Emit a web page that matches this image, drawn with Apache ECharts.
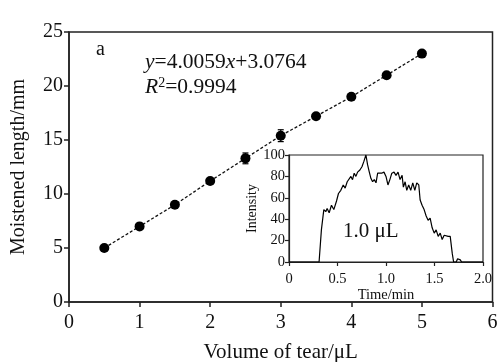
<!DOCTYPE html>
<html>
<head>
<meta charset="utf-8">
<script src="https://cdn.jsdelivr.net/npm/echarts@6/dist/echarts.min.js"></script>
<style>
html,body{margin:0;padding:0;background:#fff;}
#chart{width:498px;height:362px;}
</style>
</head>
<body>
<div id="chart"></div>
<script>
// Main plot data
const volume = [0.5, 1, 1.5, 2, 2.5, 3, 3.5, 4, 4.5, 5];
const moistLength = [5.0, 7.0, 9.0, 11.2, 13.3, 15.4, 17.2, 19.0, 21.0, 23.0];
const errVolume = [2.5, 3];
const errLow = [12.8, 14.85];
const errHigh = [13.8, 15.95];
const mainXTicks = [0, 1, 2, 3, 4, 5, 6];
const mainYTicks = [0, 5, 10, 15, 20, 25];

// Inset data
const insetTime = [0, 0.31, 0.334, 0.359, 0.379, 0.393, 0.414, 0.438, 0.462, 0.49, 0.51, 0.534, 0.559, 0.579, 0.6, 0.62, 0.638, 0.655, 0.672, 0.69, 0.707, 0.731, 0.752, 0.772, 0.793, 0.81, 0.828, 0.845, 0.862, 0.879, 0.897, 0.914, 0.931, 0.955, 0.979, 1.0, 1.02, 1.04, 1.06, 1.083, 1.103, 1.124, 1.145, 1.166, 1.179, 1.197, 1.214, 1.234, 1.255, 1.276, 1.297, 1.317, 1.338, 1.352, 1.372, 1.393, 1.414, 1.434, 1.455, 1.476, 1.497, 1.517, 1.538, 1.559, 1.579, 1.6, 1.62, 1.641, 1.662, 1.683, 1.697, 1.724, 1.738, 1.752, 1.766, 1.779, 2.0];
const insetIntensity = [0, 0, 30, 49, 47, 50, 46, 53, 49, 57, 64, 67, 72, 69, 75, 74, 80, 77, 83, 80, 84, 86, 89, 94, 100, 91, 84, 78, 75, 77, 74, 83, 84, 83, 84, 80, 72, 77, 83, 84, 81, 84, 77, 81, 70, 75, 67, 72, 67, 74, 67, 74, 72, 58, 53, 49, 43, 39, 41, 32, 27, 30, 24, 27, 21, 25, 26, 24, 24, 8, 0, 0, 3, 4, 2, 0, 0];
const insetXTicks = ['0', '0.5', '1.0', '1.5', '2.0'];
const insetYTicks = [0, 20, 40, 60, 80, 100];

const FONT = '"Liberation Serif", "Times New Roman", serif';
const AX = '#222';

const chart = echarts.init(document.getElementById('chart'), null, {renderer: 'canvas'});

const mainPts = volume.map((v, i) => [v, moistLength[i]]);
const errData = errVolume.map((v, i) => [v, errLow[i], errHigh[i]]);
const insetPts = insetTime.map((t, i) => [t, insetIntensity[i]]);

function axisCommon(fs) {
  return {
    axisLine: {show: true, lineStyle: {color: AX, width: 1.5}},
    axisTick: {show: true, inside: false, length: 5, lineStyle: {color: AX, width: 1.5}},
    splitLine: {show: false},
    axisLabel: {color: '#111', fontFamily: FONT, fontSize: fs},
    nameTextStyle: {color: '#111', fontFamily: FONT, fontSize: fs}
  };
}

const option = {
  backgroundColor: '#fff',
  animation: false,
  grid: [
    {left: 69, top: 32, right: 5.5, bottom: 60, show: true, borderColor: AX, borderWidth: 1.5,
      backgroundColor: 'transparent', containLabel: false, outerBoundsMode: 'none'},
    {left: 289, top: 155, right: 15, bottom: 100, show: true, borderColor: AX, borderWidth: 1.2,
      backgroundColor: '#fff', z: 5, containLabel: false, outerBoundsMode: 'none'}
  ],
  xAxis: [
    Object.assign(axisCommon(20), {
      gridIndex: 0, type: 'value', min: mainXTicks[0], max: mainXTicks[mainXTicks.length - 1], interval: 1,
      name: 'Volume of tear/\u03bcL', nameLocation: 'middle', nameGap: 40,
      nameTextStyle: {color: '#111', fontFamily: FONT, fontSize: 21},
      axisLabel: {color: '#111', fontFamily: FONT, fontSize: 20, margin: 11}
    }),
    Object.assign(axisCommon(14), {
      gridIndex: 1, type: 'value', min: 0, max: 2, interval: 0.5, z: 6,
      name: 'Time/min', nameLocation: 'middle', nameGap: 25,
      nameTextStyle: {color: '#111', fontFamily: FONT, fontSize: 14.5},
      axisLine: {show: true, lineStyle: {color: AX, width: 1.2}},
      axisTick: {show: true, inside: false, length: 4, lineStyle: {color: AX, width: 1.2}},
      axisLabel: {color: '#111', fontFamily: FONT, fontSize: 14.5, margin: 10,
        formatter: (v) => insetXTicks[Math.round(v / 0.5)]}
    })
  ],
  yAxis: [
    Object.assign(axisCommon(20), {
      gridIndex: 0, type: 'value', min: mainYTicks[0], max: mainYTicks[mainYTicks.length - 1], interval: 5,
      name: 'Moistened length/mm', nameLocation: 'middle', nameGap: 40,
      nameTextStyle: {color: '#111', fontFamily: FONT, fontSize: 20},
      axisLabel: {color: '#111', fontFamily: FONT, fontSize: 20, margin: 6}
    }),
    Object.assign(axisCommon(14), {
      gridIndex: 1, type: 'value', min: insetYTicks[0], max: insetYTicks[insetYTicks.length - 1], interval: 20, z: 6,
      name: 'Intensity', nameLocation: 'middle', nameGap: 22,
      nameTextStyle: {color: '#111', fontFamily: FONT, fontSize: 14},
      axisLine: {show: true, lineStyle: {color: AX, width: 1.2}},
      axisTick: {show: true, inside: false, length: 4, lineStyle: {color: AX, width: 1.2}},
      axisLabel: {color: '#111', fontFamily: FONT, fontSize: 14.5, margin: 4}
    })
  ],
  series: [
    {
      type: 'line', xAxisIndex: 0, yAxisIndex: 0, data: mainPts,
      symbol: 'circle', symbolSize: 10,
      itemStyle: {color: '#000'},
      lineStyle: {color: '#111', width: 1.3, type: [3, 2]},
      z: 3
    },
    {
      type: 'custom', xAxisIndex: 0, yAxisIndex: 0, data: errData, z: 4,
      renderItem: function (params, api) {
        const x = api.value(0);
        const lo = api.coord([x, api.value(1)]);
        const hi = api.coord([x, api.value(2)]);
        const st = {stroke: '#000', lineWidth: 1.2};
        return {
          type: 'group',
          children: [
            {type: 'line', shape: {x1: lo[0], y1: lo[1], x2: hi[0], y2: hi[1]}, style: st},
            {type: 'line', shape: {x1: lo[0] - 3, y1: lo[1], x2: lo[0] + 3, y2: lo[1]}, style: st},
            {type: 'line', shape: {x1: hi[0] - 3, y1: hi[1], x2: hi[0] + 3, y2: hi[1]}, style: st}
          ]
        };
      }
    },
    {
      type: 'line', xAxisIndex: 1, yAxisIndex: 1, data: insetPts,
      symbol: 'none', lineStyle: {color: '#000', width: 1.2}, z: 7
    }
  ],
  graphic: [
    {type: 'text', left: 96, top: 40, z: 10,
      style: {text: 'a', fontFamily: FONT, fontSize: 20, fill: '#111'}},
    {type: 'text', left: 145, top: 51, z: 10,
      style: {text: '{i|y}=4.0059{i|x}+3.0764', fontFamily: FONT, fontSize: 21.5, fill: '#111',
        rich: {i: {fontStyle: 'italic', fontFamily: FONT, fontSize: 21.5, fill: '#111'}}}},
    {type: 'text', left: 145, top: 76, z: 10,
      style: {text: '{i|R}{s|2}=0.9994', fontFamily: FONT, fontSize: 21.5, fill: '#111',
        rich: {
          i: {fontStyle: 'italic', fontFamily: FONT, fontSize: 21.5, fill: '#111'},
          s: {fontFamily: FONT, fontSize: 14, fill: '#111', verticalAlign: 'top', padding: [0, 0, 8, 0]}
        }}},
    {type: 'text', left: 343, top: 221, z: 10,
      style: {text: '1.0 \u03bcL', fontFamily: FONT, fontSize: 21, fill: '#111'}}
  ]
};

chart.setOption(option);
</script>
</body>
</html>
